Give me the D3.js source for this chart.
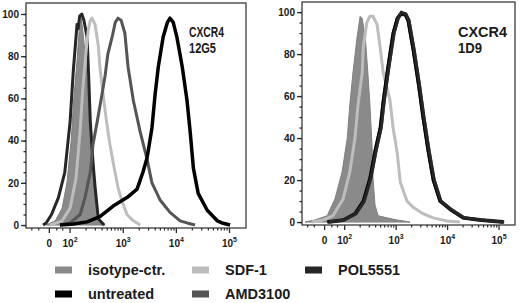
<!DOCTYPE html>
<html>
<head>
<meta charset="utf-8">
<script src="https://cdn.jsdelivr.net/npm/d3@7"></script>
<style>
  body { margin: 0; background: #fff; }
  svg { display: block; font-family: "Liberation Sans", Arial, sans-serif; }
</style>
</head>
<body>
<svg id="chart" width="520" height="303"></svg>
<script>
// x = position on the biexponential axis in decades (2 = 10^2), y = % of max

// panel 1: CXCR4 12G5
const isotype12G5 = [[1.56,0],[1.73,2],[1.86,8],[1.95,20],[2.03,40],[2.08,60],[2.14,78],[2.18,92],[2.22,98],
  [2.25,92],[2.29,82],[2.35,62],[2.40,44],[2.46,24],[2.52,8],[2.57,2],[2.67,0]];
const pol12G5 = [[1.50,0],[1.56,1],[1.66,5],[1.79,13],[1.91,25],[2.01,49],[2.07,73],[2.14,95],[2.16,93],[2.19,99],
  [2.23,100],[2.27,97],[2.33,89],[2.36,70],[2.39,49],[2.44,30],[2.48,18],[2.54,3],[2.65,0]];
const sdf12G5 = [[1.63,0],[1.86,2],[2.01,8],[2.12,22],[2.20,45],[2.25,65],[2.31,82],[2.35,92],[2.39,97],[2.42,98],
  [2.48,95],[2.54,85],[2.57,75],[2.63,62],[2.69,50],[2.76,38],[2.84,27],[2.91,18],[2.99,11],[3.08,5],[3.20,2],[3.33,0]];
const amd12G5 = [[1.82,0],[2.01,1],[2.20,5],[2.29,13],[2.39,25],[2.44,38],[2.52,49],[2.61,62],[2.67,71],[2.72,81],
  [2.80,89],[2.86,96],[2.91,98],[2.97,97],[3.04,91],[3.10,75],[3.20,59],[3.33,44],[3.46,31],[3.55,20],[3.70,12],
  [3.89,6],[4.08,2],[4.21,1],[4.36,0]];
const untreated12G5 = [[1.82,0],[2.07,0.5],[2.33,1.5],[2.57,4],[2.82,9],[3.08,13],[3.27,17],[3.38,25],[3.46,32],
  [3.55,46],[3.61,62],[3.67,75],[3.76,89],[3.84,96],[3.89,98],[3.95,96],[4.02,89],[4.12,75],[4.21,59],[4.27,44],
  [4.33,27],[4.42,15],[4.59,7],[4.78,2],[4.87,1],[5.02,0]];

// panel 2: CXCR4 1D9
const isotype1D9 = [[1.24,0],[1.43,1],[1.67,3],[1.82,11],[1.96,24],[2.06,40],[2.11,56],[2.17,71],[2.25,88],[2.31,98],
  [2.35,97],[2.41,88],[2.46,71],[2.50,56],[2.54,37],[2.56,21],[2.60,8],[2.66,3],[2.83,2],[3.03,1],[3.28,0]];
const sdf1D9 = [[1.37,0],[1.59,1],[1.78,3],[1.98,11],[2.11,24],[2.21,40],[2.27,56],[2.35,71],[2.37,83],[2.44,95],
  [2.50,98],[2.56,98],[2.64,94],[2.70,83],[2.76,71],[2.89,58],[2.95,45],[3.03,33],[3.09,19],[3.22,10],[3.34,7],
  [3.53,4],[3.73,2],[4.00,0.5],[4.25,0]];
const amd1D9 = [[1.69,0],[1.99,1],[2.22,4],[2.38,10],[2.51,21],[2.61,34],[2.71,45],[2.77,58],[2.86,74],[2.96,90],
  [3.04,97],[3.10,99],[3.19,99],[3.25,96],[3.35,82],[3.45,66],[3.54,50],[3.64,34],[3.74,20],[3.87,10],[4.07,6],
  [4.32,2],[4.65,1],[5.10,0]];
const pol1D9 = [[1.70,0],[2.00,1],[2.23,4],[2.39,10],[2.52,21],[2.62,34],[2.72,45],[2.78,58],[2.87,74],[2.97,90],
  [3.05,97],[3.11,100],[3.20,99],[3.26,96],[3.36,82],[3.46,66],[3.55,50],[3.65,34],[3.75,20],[3.88,10],[4.08,6],
  [4.33,2],[4.66,1],[5.11,0]];
const untreated1D9 = [[1.67,0],[1.98,1],[2.21,4],[2.37,10],[2.50,21],[2.60,34],[2.70,45],[2.76,58],[2.85,74],[2.95,90],
  [3.03,97],[3.09,99],[3.18,99],[3.24,96],[3.34,82],[3.44,66],[3.53,50],[3.63,34],[3.73,20],[3.86,10],[4.06,6],
  [4.31,2],[4.64,1],[5.09,0]];

const yTicks = [0, 20, 40, 60, 80, 100];
const xTicks = [1.61, 2, 3, 4, 5];
const xTickLabels = [["0", ""], ["10", "2"], ["10", "3"], ["10", "4"], ["10", "5"]];
const legendNames = ["isotype-ctr.", "SDF-1", "POL5551", "untreated", "AMD3100"];
const legendColors = ["#8a8a8a", "#bdbdbd", "#262626", "#000000", "#555555"];

const svg = d3.select("#chart");
const textColor = "#1a1a1a";

const panels = [
  {
    left: 26, right: 246, top: 3, bottom: 228, yDomain: [-1.4, 105.2],
    label: ["CXCR4", "12G5"], labelX: 189, labelW: [35, 27],
    fill: isotype12G5,
    lines: [
      { data: pol12G5, color: legendColors[2], w: 3 },
      { data: sdf12G5, color: legendColors[1], w: 3 },
      { data: amd12G5, color: legendColors[4], w: 3 },
      { data: untreated12G5, color: legendColors[3], w: 3.5 }
    ]
  },
  {
    left: 302, right: 515, top: 2, bottom: 225, yDomain: [-1.4, 104.8],
    label: ["CXCR4", "1D9"], labelX: 458, labelW: [49, 24],
    fill: isotype1D9,
    lines: [
      { data: sdf1D9, color: legendColors[1], w: 3 },
      { data: amd1D9, color: legendColors[4], w: 4 },
      { data: untreated1D9, color: legendColors[3], w: 3 },
      { data: pol1D9, color: legendColors[2], w: 3 }
    ]
  }
];

const minorX = [];
[2, 3, 4].forEach(n => d3.range(2, 10).forEach(k => minorX.push(Math.log10(k) + n)));
minorX.push(1.28, 1.41, 1.75, 1.86);

panels.forEach((p, i) => {
  const x = d3.scaleLinear().domain([1.18, 5.32]).range([p.left, p.right]);
  const y = d3.scaleLinear().domain(p.yDomain).range([p.bottom, p.top]);

  const clipId = "clip" + i;
  svg.append("clipPath").attr("id", clipId)
    .append("rect")
    .attr("x", p.left).attr("y", p.top)
    .attr("width", p.right - p.left).attr("height", p.bottom - p.top);

  const g = svg.append("g").attr("clip-path", `url(#${clipId})`);

  const area = d3.area().x(d => x(d[0])).y0(y(0)).y1(d => y(d[1]));
  g.append("path").datum(p.fill)
    .attr("d", area)
    .attr("fill", legendColors[0])
    .attr("stroke", "#808080")
    .attr("stroke-width", 1);

  const line = d3.line().x(d => x(d[0])).y(d => y(d[1]));
  p.lines.forEach(s => {
    g.append("path").datum(s.data)
      .attr("d", line)
      .attr("fill", "none")
      .attr("stroke", s.color)
      .attr("stroke-width", s.w)
      .attr("stroke-linejoin", "round");
  });

  // frame
  svg.append("rect")
    .attr("x", p.left).attr("y", p.top)
    .attr("width", p.right - p.left).attr("height", p.bottom - p.top)
    .attr("fill", "none").attr("stroke", "#2a2a2a").attr("stroke-width", 1.2);

  // y axis
  const yAxis = svg.append("g").attr("transform", `translate(${p.left},0)`)
    .call(d3.axisLeft(y).tickValues(yTicks).tickSize(5).tickPadding(2));
  svg.append("g").attr("transform", `translate(${p.left},0)`)
    .call(d3.axisLeft(y).tickValues(d3.range(0, 101, 5)).tickSize(2.5).tickFormat(""))
    .call(a => a.select(".domain").remove())
    .selectAll("line").attr("stroke", "#2a2a2a").attr("stroke-width", 1.3);
  yAxis.select(".domain").remove();
  yAxis.selectAll("line").attr("stroke", "#2a2a2a").attr("stroke-width", 1.3);
  yAxis.selectAll("text")
    .attr("font-size", 10).attr("font-weight", "bold").attr("fill", textColor)
    .attr("font-family", "Liberation Sans, Arial, sans-serif");

  // x axis
  svg.append("g").attr("transform", `translate(0,${p.bottom})`)
    .call(d3.axisBottom(x).tickValues(minorX).tickSize(2.5).tickFormat(""))
    .call(a => a.select(".domain").remove())
    .selectAll("line").attr("stroke", "#2a2a2a").attr("stroke-width", 1.2);
  const xAxis = svg.append("g").attr("transform", `translate(0,${p.bottom})`)
    .call(d3.axisBottom(x).tickValues(xTicks).tickSize(5).tickFormat(""));
  xAxis.select(".domain").remove();
  xAxis.selectAll("line").attr("stroke", "#2a2a2a").attr("stroke-width", 1.3);
  xAxis.selectAll(".tick").each(function(d, j) {
    const t = d3.select(this).append("text")
      .attr("y", 19)
      .attr("text-anchor", "middle")
      .attr("fill", textColor)
      .attr("font-size", 10)
      .attr("font-weight", "bold")
      .attr("font-family", "Liberation Sans, Arial, sans-serif");
    t.append("tspan").text(xTickLabels[j][0]);
    if (xTickLabels[j][1]) {
      t.append("tspan").attr("dy", -5).attr("font-size", 7).text(xTickLabels[j][1]);
    }
  });

  // panel label
  p.label.forEach((s, j) => {
    svg.append("text")
      .attr("x", p.labelX).attr("y", 37 + j * 15.5)
      .attr("font-size", 14).attr("font-weight", "bold").attr("fill", textColor)
      .attr("textLength", p.labelW[j]).attr("lengthAdjust", "spacingAndGlyphs")
      .text(s);
  });
});

// legend
const legendPos = [[55, 270], [192, 270], [305, 270], [55, 294], [192, 294]];
const legend = svg.append("g").selectAll("g")
  .data(legendNames)
  .join("g")
  .attr("transform", (d, i) => `translate(${legendPos[i][0]},${legendPos[i][1]})`);
legend.append("rect")
  .attr("x", 0).attr("y", -3.5).attr("width", 17).attr("height", 7)
  .attr("fill", (d, i) => legendColors[i]);
legend.append("text")
  .attr("x", 33).attr("y", 5)
  .attr("font-size", 14.5).attr("font-weight", "bold").attr("fill", textColor)
  .text(d => d);
</script>
</body>
</html>
